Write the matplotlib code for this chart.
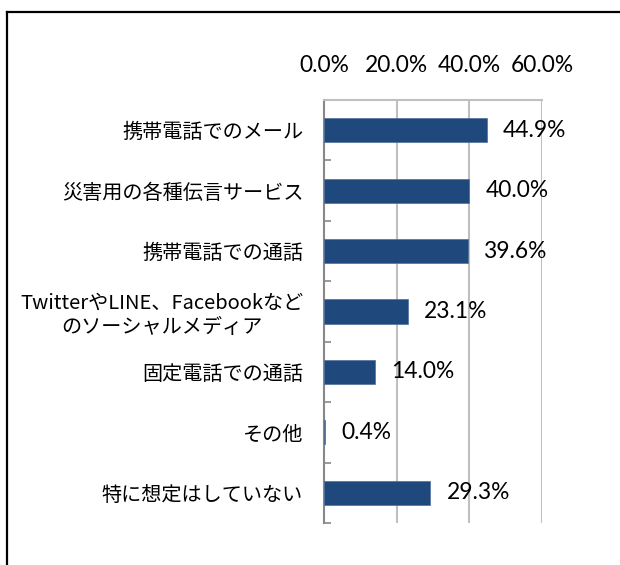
import numpy as np
import matplotlib.pyplot as plt
from matplotlib.lines import Line2D

plt.rcParams['font.family'] = ['Noto Sans CJK JP', 'DejaVu Sans']

# データ
categories = ['携帯電話でのメール', '災害用の各種伝言サービス', '携帯電話での通話',
              'TwitterやLINE、Facebookなど\nのソーシャルメディア', '固定電話での通話',
              'その他', '特に想定はしていない']
values = [44.9, 40.0, 39.6, 23.1, 14.0, 0.4, 29.3]
xticks = [0, 20, 40, 60]
xtick_labels = ['0.0%', '20.0%', '40.0%', '60.0%']

bar_color = '#1F497D'
grid_color = '#BFBFBF'
spine_color = '#888888'
num_font = ['Lato', 'DejaVu Sans']

fig = plt.figure(figsize=(6.2, 5.65), dpi=100)
ax = fig.add_axes([324/620, 1-523/565, 218/620, 423/565])

y = np.arange(len(categories))
ax.barh(y, values, height=0.4, color=bar_color, edgecolor='#4F6F9A', linewidth=0.5, zorder=3)

for yi, v in zip(y, values):
    ax.annotate('%.1f%%' % v, xy=(v, yi), xytext=(11.5, 0), textcoords='offset points',
                ha='left', va='center', fontsize=16.4, family=num_font, color='black')

ax.set_xlim(0, 60)
ax.set_ylim(len(categories)-0.5, -0.5)

# 上側の目盛
ax.xaxis.tick_top()
ax.set_xticks(xticks)
ax.set_xticklabels(xtick_labels, fontsize=16.4, family=num_font)
ax.tick_params(axis='x', length=0, pad=17)
for g in xticks[1:]:
    ax.axvline(g, color=grid_color, linewidth=1.5, zorder=1)

# 縦軸
ax.set_yticks(y)
ax.set_yticklabels(categories, fontsize=14.5, multialignment='center')
ax.tick_params(axis='y', which='major', length=0, pad=15)
ax.set_yticks(np.arange(-0.5, len(categories)), minor=True)
ax.tick_params(axis='y', which='minor', direction='in', length=5, width=1.2, color=spine_color)

ax.spines['right'].set_visible(False)
ax.spines['bottom'].set_visible(False)
ax.spines['left'].set_color(spine_color)
ax.spines['left'].set_linewidth(1.5)
ax.spines['top'].set_color(grid_color)
ax.spines['top'].set_linewidth(1.5)

# 外枠 (左と上だけ見えている)
x0 = 6.5/620
y0 = 1 - 11.5/565
fig.add_artist(Line2D([x0, x0], [0, y0], transform=fig.transFigure, color='black', linewidth=1.6))
fig.add_artist(Line2D([x0, 1.01], [y0, y0], transform=fig.transFigure, color='black', linewidth=1.6))

fig.savefig('out.png', dpi=100, facecolor='white', edgecolor='white')
